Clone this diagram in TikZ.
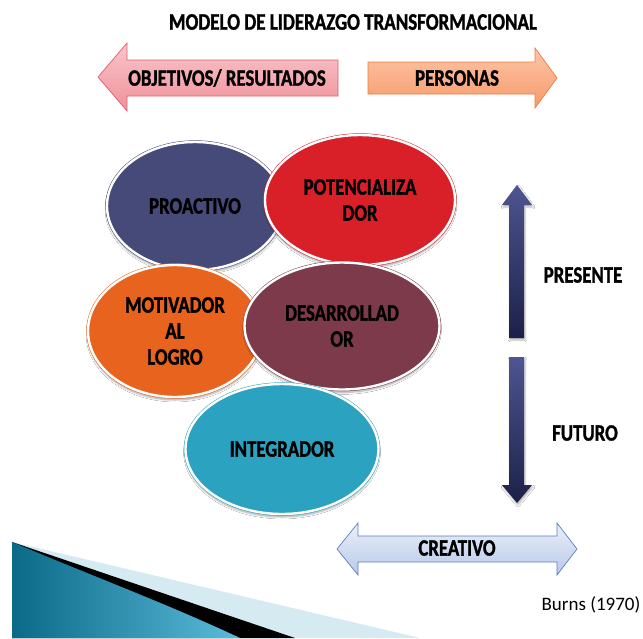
\documentclass[tikz,border=0pt]{standalone}
\usepackage{fontspec}
\setmainfont{Carlito}
\newfontfamily\lab[FakeStretch=0.8, BoldFeatures={FakeBold=1.2}]{Carlito}
\usetikzlibrary{shapes.geometric,shadows.blur}
\definecolor{cproact}{HTML}{464A78}
\definecolor{cpot}{HTML}{D92029}
\definecolor{cmot}{HTML}{E8641E}
\definecolor{cdes}{HTML}{7D3A4A}
\definecolor{cint}{HTML}{2BA3C0}
\definecolor{pinkT}{HTML}{F9C6CA}
\definecolor{pinkB}{HTML}{F0909A}
\definecolor{pinkD}{HTML}{E0606E}
\definecolor{orT}{HTML}{FCC6A8}
\definecolor{orB}{HTML}{F79A6A}
\definecolor{orD}{HTML}{F07A40}
\definecolor{blT}{HTML}{EAF0FA}
\definecolor{blB}{HTML}{B8C8E8}
\definecolor{blD}{HTML}{5B7FC0}
\definecolor{navT}{HTML}{4E5590}
\definecolor{navB}{HTML}{1C2048}
\definecolor{tealD}{HTML}{0B6A88}
\definecolor{tealL}{HTML}{5CBBDA}
\definecolor{lightb}{HTML}{D6EAF2}
\begin{document}
\begin{tikzpicture}[x=1pt,y=-1pt,
  lbl/.style={font=\lab\bfseries\fontsize{23.5}{26}\selectfont, text=black, align=center, inner sep=0pt},
  oval/.style={ellipse, draw=#1, fill=#1, double=white, double distance=2.4pt, line width=0.5pt,
    blur shadow={shadow xshift=0pt, shadow yshift=-3pt, shadow opacity=35, shadow blur steps=6},
    lbl, inner sep=0pt},
  harrow/.style={line width=0.7pt, draw=#1},
  varrow/.style={top color=navT, bottom color=navB, draw=none,
    blur shadow={shadow xshift=1pt, shadow yshift=-2pt, shadow opacity=30, shadow blur steps=4}}]
\useasboundingbox (0,0) rectangle (643,638);
\fill[white] (0,0) rectangle (643,638);

% bottom-left decoration
\fill[lightb] (12,542) -- (420,638) -- (12,638) -- cycle;
\fill[black] (12,542) -- (295,638) -- (12,638) -- cycle;
\shade[left color=tealD, right color=tealL] (12,542) .. controls (90,575) and (170,605) .. (240,638) -- (12,638) -- cycle;

% title
\node[font=\lab\bfseries\fontsize{23.7}{25}\selectfont, inner sep=0pt] (title) at (353,22) {MODELO DE LIDERAZGO TRANSFORMACIONAL};

% horizontal arrows
\shade[top color=pinkT, bottom color=pinkB, harrow=pinkD]
  (98,77) -- (127,43) -- (127,60) -- (338,60) -- (338,96) -- (127,96) -- (127,111) -- cycle;
\node[lbl] (obj) at (227,78) {OBJETIVOS/ RESULTADOS};
\shade[top color=orT, bottom color=orB, harrow=orD]
  (368,62) -- (535,62) -- (535,48) -- (557,78) -- (535,108) -- (535,94) -- (368,94) -- cycle;
\node[lbl] (pers) at (457,78) {PERSONAS};

% ellipses
\node[oval=cproact, minimum width=176pt, minimum height=128pt] (proact) at (195,206) {PROACTIVO};
\node[oval=cpot, minimum width=190pt, minimum height=130pt] (pot) at (360,200) {POTENCIALIZA\\DOR};
\node[oval=cmot, minimum width=174pt, minimum height=132pt] (mot) at (175,331) {MOTIVADOR\\AL\\LOGRO};
\node[oval=cdes, minimum width=195pt, minimum height=127pt] (des) at (342,326) {DESARROLLAD\\OR};
\node[oval=cint, minimum width=193pt, minimum height=130pt] (int) at (282,449) {INTEGRADOR};

% vertical arrows
\shade[varrow] (517,185) -- (532,205) -- (524,205) -- (524,338) -- (509,338) -- (509,205) -- (502,205) -- cycle;
\shade[varrow] (509,357) -- (524,357) -- (524,485) -- (532,485) -- (517,503) -- (502,485) -- (509,485) -- cycle;
\node[lbl] (pres) at (583,275) {PRESENTE};
\node[lbl] (fut) at (585,433) {FUTURO};

% creativo double arrow
\shade[top color=blT, bottom color=blB, harrow=blD]
  (337,549) -- (358,523) -- (358,536) -- (557,536) -- (557,523) -- (577,549) -- (557,575) -- (557,562) -- (358,562) -- (358,575) -- cycle;
\node[lbl] (crea) at (457,548) {CREATIVO};

\node[font=\fontsize{19}{21}\selectfont, inner sep=0pt] (burns) at (591,605) {Burns (1970)};
\end{tikzpicture}
\end{document}
